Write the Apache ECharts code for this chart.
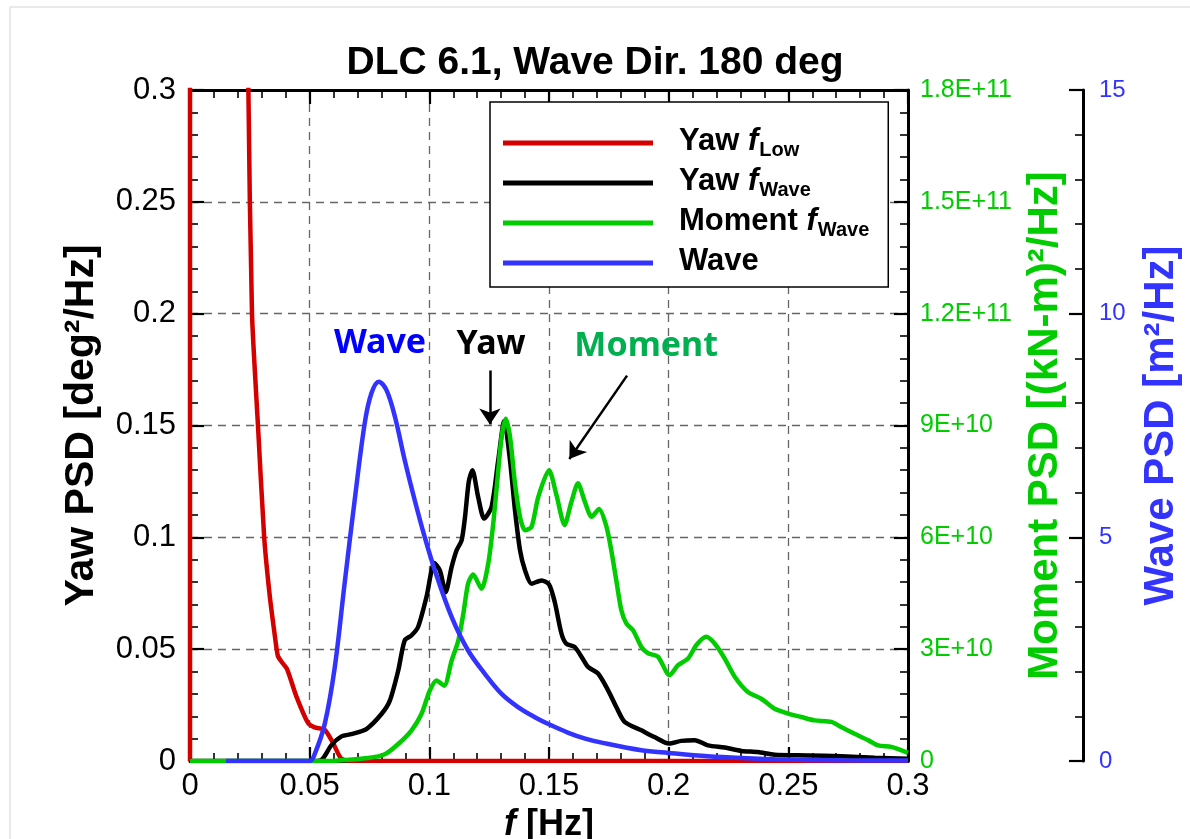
<!DOCTYPE html>
<html>
<head>
<meta charset="utf-8">
<script src="https://cdn.jsdelivr.net/npm/echarts@6/dist/echarts.min.js"></script>
<style>
html,body{margin:0;padding:0;background:#fff;overflow:hidden;width:1190px;height:839px;}
#chart{width:1190px;height:839px;overflow:hidden;}
</style>
</head>
<body>
<div id="chart"></div>
<script>
// ---- data ----
// Yaw f_Low (left axis, deg^2/Hz)
const freqRed = [0, 0.0005, 0.02, 0.0244, 0.0259, 0.0284, 0.031, 0.0332, 0.0352, 0.0367, 0.0385, 0.0406, 0.0444, 0.0493, 0.0521, 0.0563, 0.0598, 0.0633, 0.07, 0.1, 0.15, 0.2, 0.25, 0.3];
const yawLow  = [0, 50, 1.0, 0.3, 0.2, 0.15, 0.1, 0.075, 0.058, 0.047, 0.044, 0.041, 0.029, 0.017, 0.015, 0.014, 0.008, 0.001, 0, 0, 0, 0, 0, 0];

// Yaw f_Wave (left axis, deg^2/Hz)
const freqBlk = [0, 0.05, 0.0549, 0.059, 0.0633, 0.0674, 0.0737, 0.080, 0.0835, 0.087, 0.0897, 0.0925, 0.0953, 0.0988, 0.1021, 0.1044, 0.1068, 0.1093, 0.1114, 0.1135, 0.1149, 0.1165, 0.118, 0.1204, 0.1229, 0.126, 0.1288, 0.1313, 0.1337, 0.1358, 0.1379, 0.14, 0.1427, 0.1469, 0.15, 0.1524, 0.1552, 0.1572, 0.1607, 0.1637, 0.1663, 0.1705, 0.1747, 0.1781, 0.1816, 0.1886, 0.1941, 0.2001, 0.2053, 0.2109, 0.2164, 0.2234, 0.2304, 0.2373, 0.2443, 0.2582, 0.2721, 0.2861, 0.3];
const yawWave = [0, 0, 0.0005, 0.007, 0.011, 0.012, 0.0143, 0.021, 0.027, 0.0404, 0.0539, 0.0561, 0.0599, 0.0733, 0.0885, 0.0852, 0.0755, 0.0867, 0.0942, 0.0987, 0.109, 0.125, 0.130, 0.118, 0.1084, 0.1136, 0.1345, 0.152, 0.1345, 0.112, 0.0942, 0.0852, 0.0793, 0.0807, 0.079, 0.0711, 0.057, 0.0525, 0.051, 0.0464, 0.0421, 0.0391, 0.0316, 0.0242, 0.0175, 0.0137, 0.0107, 0.0078, 0.009, 0.0093, 0.007, 0.006, 0.0045, 0.004, 0.0028, 0.0025, 0.0021, 0.0015, 0.001];

// Moment f_Wave (green axis, (kN-m)^2/Hz)
const freqGrn = [0, 0.06, 0.063, 0.0744, 0.0814, 0.087, 0.0925, 0.0967, 0.1002, 0.103, 0.1062, 0.1093, 0.1121, 0.1142, 0.1162, 0.1183, 0.1218, 0.1246, 0.1267, 0.1288, 0.1302, 0.1319, 0.1337, 0.1358, 0.1379, 0.14, 0.1427, 0.1455, 0.15, 0.1531, 0.1565, 0.1594, 0.1621, 0.165, 0.1678, 0.1709, 0.174, 0.176, 0.1781, 0.1802, 0.1823, 0.1851, 0.1886, 0.1914, 0.1955, 0.2004, 0.2039, 0.2081, 0.2116, 0.2157, 0.2192, 0.2234, 0.2276, 0.2331, 0.2387, 0.2443, 0.2499, 0.2554, 0.261, 0.268, 0.2721, 0.2777, 0.2833, 0.2875, 0.293, 0.3];
const momentWave = [0, 0, 1.8e8, 7.8e8, 1.8e9, 4.56e9, 8.16e9, 1.26e10, 1.89e10, 2.16e10, 2.02e10, 2.69e10, 3.23e10, 3.95e10, 4.76e10, 5.0e10, 4.62e10, 5.29e10, 6.37e10, 7.8e10, 8.7e10, 9.18e10, 8.7e10, 7.44e10, 6.54e10, 6.19e10, 6.28e10, 7.08e10, 7.8e10, 7.14e10, 6.33e10, 6.96e10, 7.45e10, 6.95e10, 6.55e10, 6.76e10, 6.29e10, 5.66e10, 4.85e10, 4.05e10, 3.69e10, 3.51e10, 3.06e10, 2.89e10, 2.8e10, 2.3e10, 2.57e10, 2.75e10, 3.11e10, 3.33e10, 3.15e10, 2.75e10, 2.26e10, 1.85e10, 1.67e10, 1.4e10, 1.27e10, 1.18e10, 1.09e10, 1.05e10, 9.1e9, 7.3e9, 5.6e9, 4.2e9, 3.8e9, 2.2e9];

// Wave (blue axis, m^2/Hz)
const freqBlu = [0.015, 0.05, 0.0521, 0.0563, 0.0605, 0.0646, 0.0688, 0.073, 0.0758, 0.0789, 0.0821, 0.0856, 0.0897, 0.0939, 0.0981, 0.1023, 0.1093, 0.1162, 0.1232, 0.1302, 0.1372, 0.1441, 0.15, 0.1581, 0.1651, 0.172, 0.1886, 0.2, 0.2164, 0.2304, 0.2443, 0.2721, 0.3];
const wavePSD = [0, 0, 0.155, 0.83, 2.1, 3.97, 5.83, 7.55, 8.22, 8.48, 8.29, 7.7, 6.73, 5.83, 5.0, 4.26, 3.22, 2.47, 1.95, 1.5, 1.2, 0.98, 0.82, 0.63, 0.5, 0.41, 0.24, 0.18, 0.105, 0.065, 0.04, 0.015, 0.01];

// tick settings
const xTicks = {min: 0, max: 0.3, interval: 0.05};
const yawTicks = {min: 0, max: 0.3, interval: 0.05};
const momTicks = {min: 0, max: 1.8e11, interval: 3e10};
const waveTicks = {min: 0, max: 15, interval: 5};

// annotations (data coords on the yaw axes)
const annoText = [
  {name: 'Wave', coord: [0.0794, 0.1866], color: '#0000ff'},
  {name: 'Yaw', coord: [0.1258, 0.1862], color: '#000000'},
  {name: 'Moment', coord: [0.1906, 0.1853], color: '#00b050'}
];
const annoArrows = [
  [[0.1253, 0.1746], [0.1253, 0.1505]],
  [[0.1826, 0.1723], [0.1585, 0.1350]]
];

const seriesNames = ['Yaw f_Low', 'Yaw f_Wave', 'Moment f_Wave', 'Wave'];
const legendRich = {
  'Yaw f_Low': '{t|Yaw }{i|f}{s|Low}',
  'Yaw f_Wave': '{t|Yaw }{i|f}{s|Wave}',
  'Moment f_Wave': '{t|Moment }{i|f}{s|Wave}',
  'Wave': '{t|Wave}'
};

const pairs = (xs, ys) => xs.map((x, i) => [x, ys[i]]);

const FONT = 'Liberation Sans';
const gridLine = {show: true, lineStyle: {color: '#666', width: 1.3, type: [8, 6]}};
const tickStyle = {show: true, inside: true, length: 14, lineStyle: {color: '#000', width: 2.2}};
const minorStyle = {show: true, splitNumber: 5, length: 8, lineStyle: {color: '#000', width: 1.6}};

const chart = echarts.init(document.getElementById('chart'), null, {renderer: 'canvas', width: 1190, height: 839});

const option = {
  animation: false,
  backgroundColor: '#fff',
  textStyle: {fontFamily: FONT},
  title: {
    text: 'DLC 6.1, Wave Dir. 180 deg',
    left: 'center', top: 39,
    textStyle: {fontFamily: FONT, fontSize: 39, fontWeight: 'bold', color: '#000'}
  },
  graphic: [
    {type: 'line', shape: {x1: 10, y1: 7, x2: 1190, y2: 7}, style: {stroke: '#e2e2e2', lineWidth: 1.5}, silent: true},
    {type: 'line', shape: {x1: 10, y1: 7, x2: 10, y2: 839}, style: {stroke: '#e2e2e2', lineWidth: 1.5}, silent: true}
  ],
  legend: {
    data: seriesNames,
    orient: 'vertical',
    left: 490, top: 102,
    padding: [24, 19, 10, 13],
    itemGap: 6,
    itemWidth: 150, itemHeight: 5,
    icon: 'rect',
    backgroundColor: '#fff',
    borderColor: '#000', borderWidth: 1.5,
    formatter: n => legendRich[n],
    textStyle: {
      padding: [0, 0, 0, 21],
      rich: {
        t: {fontFamily: FONT, fontSize: 31, fontWeight: 'bold', color: '#000', verticalAlign: 'top', lineHeight: 34},
        i: {fontFamily: FONT, fontSize: 31, fontWeight: 'bold', fontStyle: 'italic', color: '#000', verticalAlign: 'top', lineHeight: 34},
        s: {fontFamily: FONT, fontSize: 20, fontWeight: 'bold', color: '#000', verticalAlign: 'top', lineHeight: 34, padding: [14, 0, 0, 1]}
      }
    }
  },
  grid: {left: 190, right: 282, top: 90, bottom: 78, containLabel: false, outerBoundsMode: 'none'},
  xAxis: [
    {
      type: 'value', position: 'bottom', ...xTicks,
      name: '{i|f }{b|[Hz]}', nameLocation: 'middle', nameGap: 40,
      nameTextStyle: {rich: {
        i: {fontFamily: FONT, fontSize: 36, fontWeight: 'bold', fontStyle: 'italic', color: '#000'},
        b: {fontFamily: FONT, fontSize: 36, fontWeight: 'bold', color: '#000'}
      }},
      axisLine: {show: true, onZero: false, lineStyle: {color: '#000', width: 3}},
      axisTick: tickStyle,
      minorTick: minorStyle,
      axisLabel: {fontFamily: FONT, fontSize: 31, color: '#000', margin: 10,
        formatter: v => String(+v.toFixed(3))},
      splitLine: gridLine
    },
    {
      type: 'value', position: 'top', ...xTicks,
      axisLine: {show: true, onZero: false, lineStyle: {color: '#000', width: 3}},
      axisTick: tickStyle,
      minorTick: minorStyle,
      axisLabel: {show: false},
      splitLine: {show: false}
    }
  ],
  yAxis: [
    {
      type: 'value', position: 'left', ...yawTicks,
      name: 'Yaw PSD [deg²/Hz]', nameLocation: 'middle', nameGap: 88, nameRotate: 90,
      nameTextStyle: {fontFamily: FONT, fontSize: 41, fontWeight: 'bold', color: '#000'},
      axisLine: {show: true, onZero: false, lineStyle: {color: '#000', width: 3}},
      axisTick: tickStyle,
      minorTick: minorStyle,
      axisLabel: {fontFamily: FONT, fontSize: 31, color: '#000', margin: 14,
        formatter: v => String(+v.toFixed(3))},
      splitLine: gridLine
    },
    {
      type: 'value', position: 'right', offset: 0, ...momTicks,
      name: 'Moment PSD [(kN-m)²/Hz]', nameLocation: 'middle', nameGap: 116, nameRotate: 90,
      nameTextStyle: {fontFamily: FONT, fontSize: 42, fontWeight: 'bold', color: '#00cc00'},
      axisLine: {show: true, onZero: false, lineStyle: {color: '#000', width: 3}},
      axisTick: tickStyle,
      minorTick: minorStyle,
      axisLabel: {fontFamily: FONT, fontSize: 25, color: '#00cc00', margin: 12,
        formatter: v => v === 0 ? '0' : Number(v).toExponential().toUpperCase()},
      splitLine: {show: false}
    },
    {
      type: 'value', position: 'right', offset: 175, ...waveTicks,
      name: 'Wave PSD [m²/Hz]', nameLocation: 'middle', nameGap: 57, nameRotate: 90,
      nameTextStyle: {fontFamily: FONT, fontSize: 42, fontWeight: 'bold', color: '#3333ff'},
      axisLine: {show: true, onZero: false, lineStyle: {color: '#000', width: 3}},
      axisTick: tickStyle,
      minorTick: minorStyle,
      axisLabel: {fontFamily: FONT, fontSize: 24, color: '#3333ff', margin: 16},
      splitLine: {show: false}
    }
  ],
  series: [
    {
      name: 'Yaw f_Low', type: 'line', xAxisIndex: 0, yAxisIndex: 0,
      data: pairs(freqRed, yawLow), showSymbol: false, symbol: 'none', smooth: 0.2,
      lineStyle: {color: '#d40000', width: 4.5}, itemStyle: {color: '#d40000'}, z: 3
    },
    {
      name: 'Yaw f_Wave', type: 'line', xAxisIndex: 0, yAxisIndex: 0,
      data: pairs(freqBlk, yawWave), showSymbol: false, symbol: 'none', smooth: 0.25,
      lineStyle: {color: '#000', width: 4.5}, itemStyle: {color: '#000'}, z: 4,
      markPoint: {
        silent: true, symbol: 'circle', symbolSize: 1,
        itemStyle: {color: 'rgba(0,0,0,0)'},
        data: annoText.map(a => ({
          coord: a.coord, value: a.name,
          label: {show: true, position: 'inside', formatter: a.name, color: a.color,
            fontFamily: 'Noto Sans', fontSize: 34, fontWeight: 'bold'}
        }))
      },
      markLine: {
        silent: true, symbol: ['none', 'arrow'], symbolSize: 16,
        label: {show: false},
        lineStyle: {color: '#000', width: 2.5, type: 'solid'},
        data: annoArrows.map(a => [{coord: a[0]}, {coord: a[1]}])
      }
    },
    {
      name: 'Moment f_Wave', type: 'line', xAxisIndex: 0, yAxisIndex: 1,
      data: pairs(freqGrn, momentWave), showSymbol: false, symbol: 'none', smooth: 0.25,
      lineStyle: {color: '#00cc00', width: 4.5}, itemStyle: {color: '#00cc00'}, z: 5
    },
    {
      name: 'Wave', type: 'line', xAxisIndex: 0, yAxisIndex: 2,
      data: pairs(freqBlu, wavePSD), showSymbol: false, symbol: 'none', smooth: 0.35,
      lineStyle: {color: '#3333ff', width: 4.5}, itemStyle: {color: '#3333ff'}, z: 6
    }
  ]
};
chart.setOption(option);
</script>
</body>
</html>
